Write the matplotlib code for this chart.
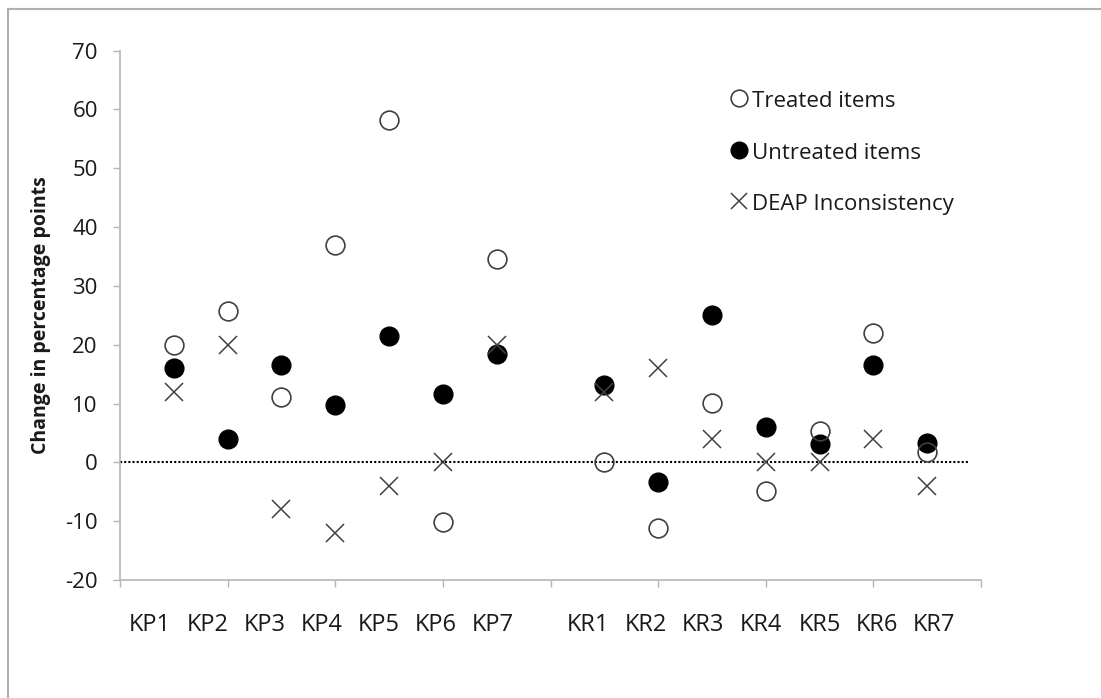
import matplotlib
matplotlib.use("Agg")
import matplotlib.pyplot as plt
from matplotlib.lines import Line2D

plt.rcParams["font.family"] = ["Open Sans", "DejaVu Sans"]
plt.rcParams["axes.unicode_minus"] = False

# Categories and their x positions (gap between the KP and KR groups)
kp_labels = ["KP1", "KP2", "KP3", "KP4", "KP5", "KP6", "KP7"]
kr_labels = ["KR1", "KR2", "KR3", "KR4", "KR5", "KR6", "KR7"]
kp_x = [1, 2, 3, 4, 5, 6, 7]
kr_x = [9, 10, 11, 12, 13, 14, 15]

# Change in percentage points per category
treated = [20, 25.7, 11.2, 36.9, 58.2, -10.2, 34.6,
           0, -11.1, 10.1, -4.8, 5.3, 22, 1.8]
untreated = [16, 3.9, 16.6, 9.7, 21.5, 11.6, 18.4,
             13.1, -3.3, 25.1, 6.1, 3.1, 16.5, 3.3]
deap = [12, 20, -8, -12, -4, 0, 20,
        12, 16, 4, 0, 0, 4, -4]

series_names = ["Treated items", "Untreated items", "DEAP Inconsistency"]

# Where the group labels sit under the axis (data units)
kp_label_x = [0.56, 1.63, 2.69, 3.74, 4.80, 5.87, 6.92]
kr_label_x = [8.69, 9.78, 10.84, 11.91, 13.0, 14.06, 15.13]

x_all = kp_x + kr_x
axis_grey = "#b5b5b5"
text_col = "#1a1a1a"
mark_grey = "#404040"

fig = plt.figure(figsize=(11.01, 6.98), dpi=100)
ax = fig.add_axes([0.109, 0.169, 0.782, 0.7584])

ax.plot(x_all, untreated, linestyle="none", marker="o", markersize=13.5,
        markerfacecolor="black", markeredgecolor="black", zorder=3)
ax.plot(x_all, treated, linestyle="none", marker="o", markersize=13.5,
        markerfacecolor="none", markeredgecolor=mark_grey, markeredgewidth=1.2, zorder=4)
ax.plot(x_all, deap, linestyle="none", marker="x", markersize=13,
        markeredgecolor=mark_grey, markeredgewidth=1.1, zorder=4)

# Zero reference line
ax.axhline(0, xmin=0, xmax=0.987, color="black", linestyle=(0, (1, 1)),
           linewidth=1.5, zorder=2)

ax.set_xlim(0, 16)
ax.set_ylim(-20, 70)
ax.set_xticks(range(0, 17, 2))
ax.set_xticklabels([])
ax.set_yticks(range(-20, 71, 10))
ax.tick_params(axis="both", direction="out", length=5, width=1, color=axis_grey,
               labelsize=16, labelcolor=text_col)
ax.tick_params(axis="y", pad=11)
for side in ("top", "right"):
    ax.spines[side].set_visible(False)
for side in ("left", "bottom"):
    ax.spines[side].set_color(axis_grey)
    ax.spines[side].set_linewidth(1.2)

for lx, lab in zip(kp_label_x + kr_label_x, kp_labels + kr_labels):
    ax.text(lx, -28.7, lab, ha="center", va="baseline", fontsize=17, color=text_col)

ax.set_ylabel("Change in percentage points", fontsize=14, fontweight="bold",
              color=text_col)
ax.yaxis.set_label_coords(-0.080, 0.5)

# Key: marker followed by its label, one row per series
key_rows = [0.894, 0.795, 0.699]
key_styles = [
    dict(marker="o", markersize=12, markerfacecolor="none",
         markeredgecolor=mark_grey, markeredgewidth=1.2),
    dict(marker="o", markersize=12, markerfacecolor="black", markeredgecolor="black"),
    dict(marker="x", markersize=11, markeredgecolor=mark_grey, markeredgewidth=1.1),
]
for yb, name, style in zip(key_rows, series_names, key_styles):
    ax.plot([0.719], [yb + 0.017], transform=ax.transAxes, linestyle="none",
            clip_on=False, **style)
    ax.text(0.734, yb, name, transform=ax.transAxes, ha="left", va="baseline",
            fontsize=16, color=text_col)

# Light frame along the top and left edges
fig.add_artist(Line2D([8 / 1101, 8 / 1101], [0, 1 - 9 / 698], transform=fig.transFigure,
                      color="#b0b0b0", linewidth=1.5))
fig.add_artist(Line2D([8 / 1101, 1], [1 - 9 / 698, 1 - 9 / 698], transform=fig.transFigure,
                      color="#b0b0b0", linewidth=1.5))

fig.savefig("out.png", dpi=100)
